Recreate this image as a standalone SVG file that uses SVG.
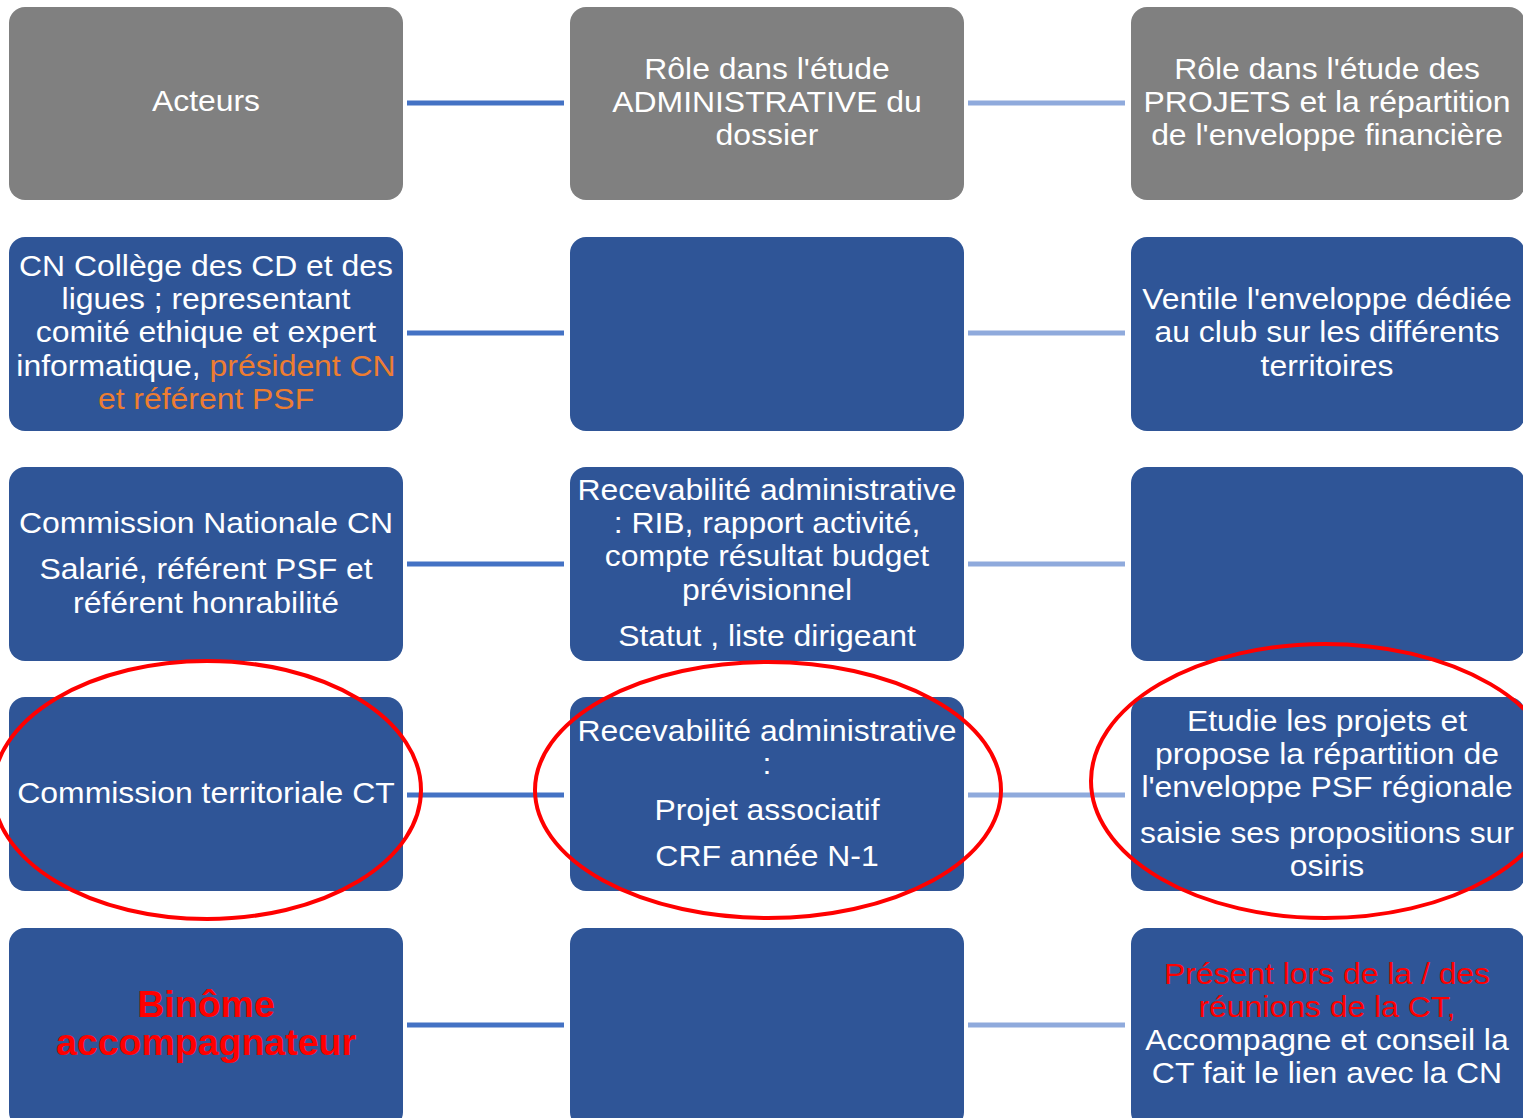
<svg xmlns="http://www.w3.org/2000/svg" width="1523" height="1118" viewBox="0 0 1523 1118">
<style>
.hdr{fill:#808080}
.box{fill:#2F5597}
text{font-family:"Liberation Sans",Arial,sans-serif;font-size:29px;fill:#fff;text-anchor:middle}
.or{fill:#ED7D31}
.rd{fill:#FF0000}
.bd{font-weight:bold;font-size:37.5px;fill:#FF0000}
.c1{stroke:#4472C4;stroke-width:5}
.c2{stroke:#8FAADC;stroke-width:5}
.ell{fill:none;stroke:#FF0000;stroke-width:4}
</style>
<rect width="1523" height="1118" fill="#fff"/>
<g id="connectors">
<line class="c1" x1="407" y1="103" x2="564" y2="103"/>
<line class="c2" x1="968" y1="103" x2="1125" y2="103"/>
<line class="c1" x1="407" y1="333" x2="564" y2="333"/>
<line class="c2" x1="968" y1="333" x2="1125" y2="333"/>
<line class="c1" x1="407" y1="564" x2="564" y2="564"/>
<line class="c2" x1="968" y1="564" x2="1125" y2="564"/>
<line class="c1" x1="407" y1="795" x2="564" y2="795"/>
<line class="c2" x1="968" y1="795" x2="1125" y2="795"/>
<line class="c1" x1="407" y1="1025" x2="564" y2="1025"/>
<line class="c2" x1="968" y1="1025" x2="1125" y2="1025"/>
</g>
<g id="n-acteurs"><rect class="hdr" x="9" y="7" width="394" height="193" rx="16"/>
<g transform="translate(206 0) scale(1.1 1)"><text x="0" y="111">Acteurs</text></g></g>
<g id="n-role-admin"><rect class="hdr" x="570" y="7" width="394" height="193" rx="16"/>
<g transform="translate(767 0) scale(1.1 1)"><text x="0" y="79">Rôle dans l'étude</text><text x="0" y="112">ADMINISTRATIVE du</text><text x="0" y="145">dossier</text></g></g>
<g id="n-role-projets"><rect class="hdr" x="1131" y="7" width="394" height="193" rx="16"/>
<g transform="translate(1327 0) scale(1.1 1)"><text x="0" y="79">Rôle dans l'étude des</text><text x="0" y="112">PROJETS et la répartition</text><text x="0" y="145">de l'enveloppe financière</text></g></g>

<g id="n-cn-college"><rect class="box" x="9" y="237" width="394" height="194" rx="16"/>
<g transform="translate(206 0) scale(1.1 1)"><text x="0" y="276">CN Collège des CD et des</text><text x="0" y="309">ligues ; representant</text><text x="0" y="342">comité ethique et expert</text><text x="0" y="376">informatique, <tspan class="or">président CN</tspan></text><text x="0" y="409" class="or">et référent PSF</text></g></g>
<g id="n-r2c2"><rect class="box" x="570" y="237" width="394" height="194" rx="16"/></g>
<g id="n-ventile"><rect class="box" x="1131" y="237" width="394" height="194" rx="16"/>
<g transform="translate(1327 0) scale(1.1 1)"><text x="0" y="309">Ventile l'enveloppe dédiée</text><text x="0" y="342">au club sur les différents</text><text x="0" y="376">territoires</text></g></g>

<g id="n-cn"><rect class="box" x="9" y="467" width="394" height="194" rx="16"/>
<g transform="translate(206 0) scale(1.1 1)"><text x="0" y="533">Commission Nationale CN</text><text x="0" y="579">Salarié, référent PSF et</text><text x="0" y="613">référent honrabilité</text></g></g>
<g id="n-recev1"><rect class="box" x="570" y="467" width="394" height="194" rx="16"/>
<g transform="translate(767 0) scale(1.1 1)"><text x="0" y="500">Recevabilité administrative</text><text x="0" y="533">: RIB, rapport activité,</text><text x="0" y="566">compte résultat budget</text><text x="0" y="600">prévisionnel</text><text x="0" y="646">Statut , liste dirigeant</text></g></g>
<g id="n-r3c3"><rect class="box" x="1131" y="467" width="394" height="194" rx="16"/></g>

<g id="n-ct"><rect class="box" x="9" y="697" width="394" height="194" rx="16"/>
<g transform="translate(206 0) scale(1.1 1)"><text x="0" y="803">Commission territoriale CT</text></g></g>
<g id="n-recev2"><rect class="box" x="570" y="697" width="394" height="194" rx="16"/>
<g transform="translate(767 0) scale(1.1 1)"><text x="0" y="741">Recevabilité administrative</text><text x="0" y="774">:</text><text x="0" y="820">Projet associatif</text><text x="0" y="866">CRF année N-1</text></g></g>
<g id="n-etudie"><rect class="box" x="1131" y="697" width="394" height="194" rx="16"/>
<g transform="translate(1327 0) scale(1.1 1)"><text x="0" y="731">Etudie les projets et</text><text x="0" y="764">propose la répartition de</text><text x="0" y="797">l'enveloppe PSF régionale</text><text x="0" y="843">saisie ses propositions sur</text><text x="0" y="876">osiris</text></g></g>

<g id="n-binome"><rect class="box" x="9" y="928" width="394" height="200" rx="16"/>
<text x="206" y="1017" class="bd">Binôme</text><text x="206" y="1055" class="bd">accompagnateur</text></g>
<g id="n-r5c2"><rect class="box" x="570" y="928" width="394" height="200" rx="16"/></g>
<g id="n-present"><rect class="box" x="1131" y="928" width="394" height="200" rx="16"/>
<g transform="translate(1327 0) scale(1.1 1)"><text x="0" y="984" class="rd">Présent lors de la / des</text><text x="0" y="1017" class="rd">réunions de la CT,</text><text x="0" y="1050">Accompagne et conseil la</text><text x="0" y="1083">CT fait le lien avec la CN</text></g></g>

<g id="highlights">
<ellipse class="ell" cx="207" cy="790" rx="214" ry="129"/>
<ellipse class="ell" cx="768" cy="790" rx="233" ry="128"/>
<ellipse class="ell" cx="1325" cy="781" rx="234" ry="137"/>
</g>
</svg>
